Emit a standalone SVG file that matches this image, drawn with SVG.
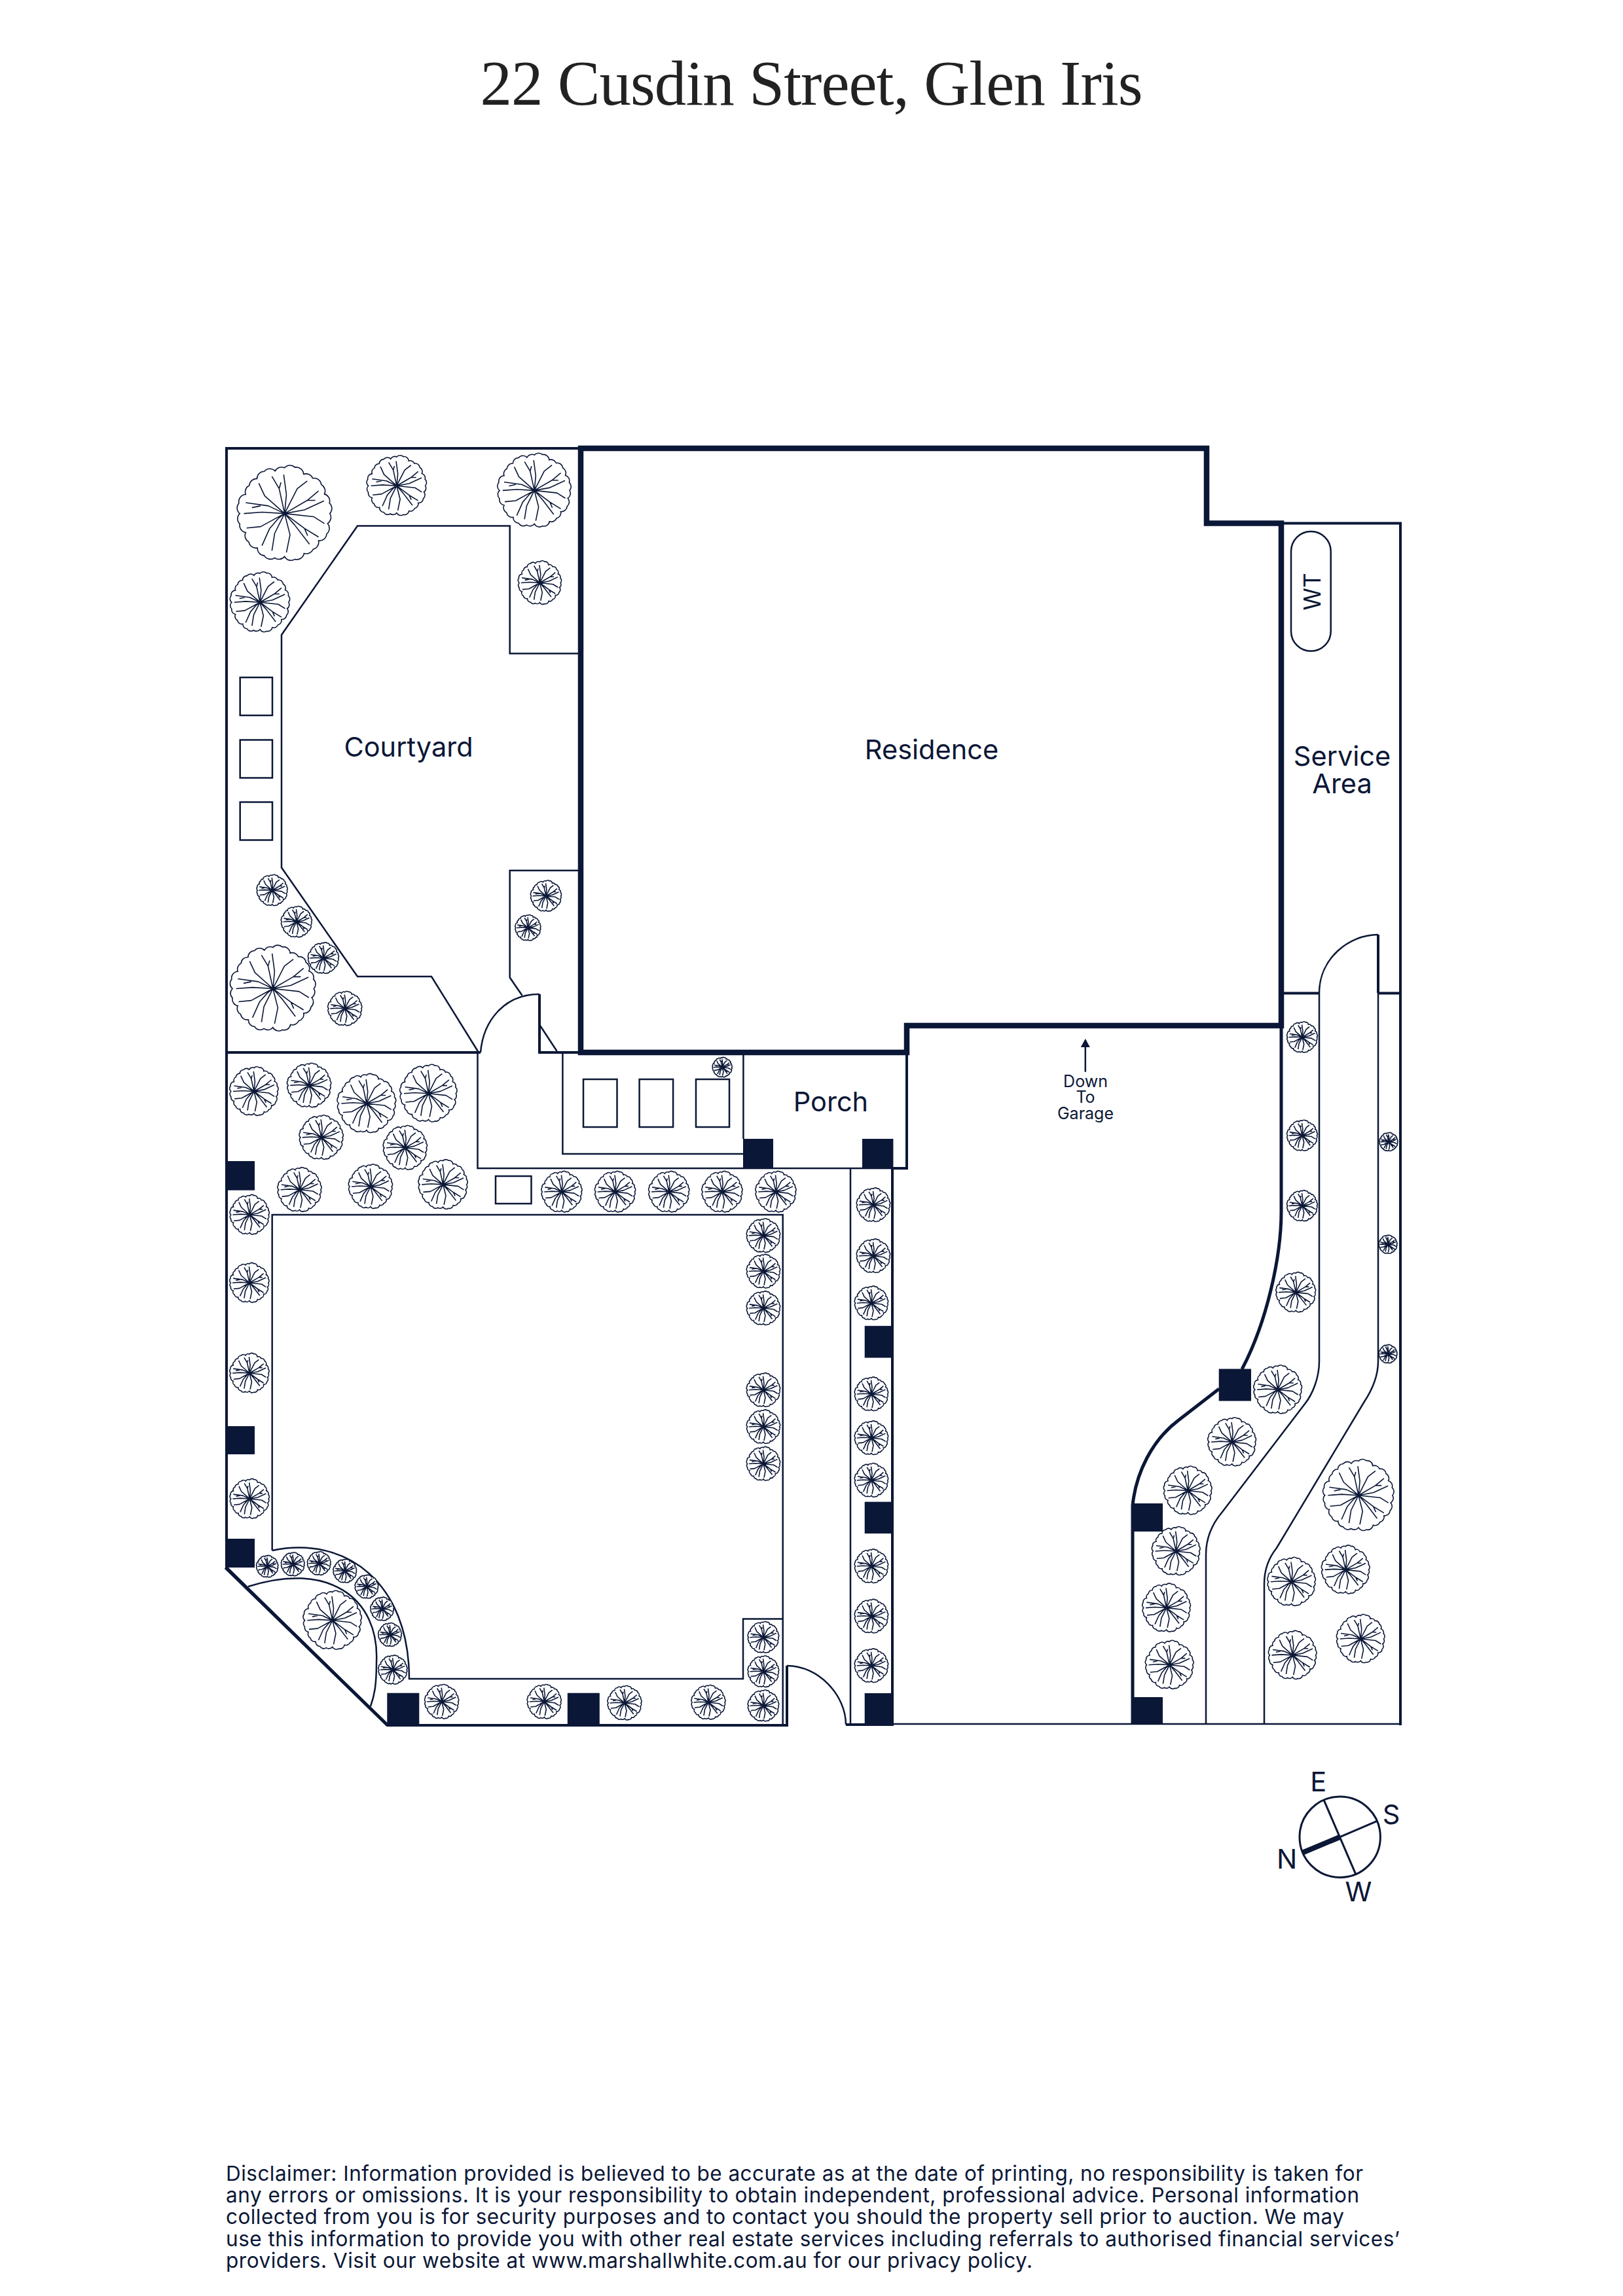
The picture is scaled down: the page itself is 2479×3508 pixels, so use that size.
<svg xmlns="http://www.w3.org/2000/svg" width="2479" height="3508" viewBox="0 0 2479 3508">
<style>
.l{fill:none;stroke:#0b1736;stroke-linejoin:miter}
.a{stroke-width:2.5}.b{stroke-width:4}.c{stroke-width:5}.d{stroke-width:8.5}.e{stroke-width:3}
.p{fill:#0b1736}
.n{fill:none;stroke:#0b1736;stroke-width:1.6;vector-effect:non-scaling-stroke;stroke-linejoin:round}
.w{fill:#fff;stroke:#0b1736;stroke-width:1.6;vector-effect:non-scaling-stroke}
text{font-family:Inter,"Liberation Sans",sans-serif;fill:#0b1736}
.r{font-size:41.500px;text-anchor:middle}
.s{font-size:25px;text-anchor:middle}
.f{font-size:31.500px}
.t{font-family:"Liberation Serif",serif;font-size:97px;fill:#222;text-anchor:middle}
</style>
<defs>
<g id="t" transform="scale(.96)">
<path class="w" d="M100 0A16 16 0 0 1 95 22A16 16 0 0 1 93 45A16 16 0 0 1 75 60A16 16 0 0 1 63 79A16 16 0 0 1 43 88A16 16 0 0 1 23 101A16 16 0 0 1 0 95A16 16 0 0 1 -22 98A16 16 0 0 1 -45 93A16 16 0 0 1 -60 76A16 16 0 0 1 -79 63A16 16 0 0 1 -86 42A16 16 0 0 1 -99 23A16 16 0 0 1 -99 0A16 16 0 0 1 -101 -23A16 16 0 0 1 -86 -42A16 16 0 0 1 -78 -62A16 16 0 0 1 -61 -77A16 16 0 0 1 -45 -93A16 16 0 0 1 -21 -94A16 16 0 0 1 0 -101A16 16 0 0 1 23 -102A16 16 0 0 1 42 -87A16 16 0 0 1 62 -78A16 16 0 0 1 81 -64A16 16 0 0 1 88 -43A16 16 0 0 1 99 -23A16 16 0 0 1 100 0Z"/>
<path class="n" d="M0 0L-12 -55L-28 -82M-12 -55L-8 -69M0 0L4 -42L-2 -86M0 0L28 -55L50 -72M0 0L50 -29L75 -50M50 -29L68 -29M0 0L44 -8L87 -28M0 0L64 7L88 22M0 0L44 33L75 52M44 33L51 49M0 0L22 25L55 68M0 0L12 47L4 86M0 0L-22 44L-28 82M0 0L-14 11L-33 33L-50 71M0 0L-53 29L-84 32M0 0L-50 -3L-90 0M0 0L-36 -17L-86 -24M-53 -17L-72 -13M0 0L-44 -39L-57 -67"/>
</g>
</defs>
<text class="t" x="1239.500" y="160" textLength="1012">22 Cusdin Street, Glen Iris</text>
<g id="plan-lines">
<path class="l b" d="M887 685H346V2395L592 2636H1204"/>
<path class="l c" d="M344.500 2395L592 2636"/>
<path class="l a" d="M887 998.500H778.700V803.500H546L430 970V1325.500L546 1492H659L731 1608"/>
<path class="l a" d="M887 1330H778.700V1493.500L797.600 1521M825 1567L850.600 1606"/>
<path class="l b" d="M346 1608H734M824 1519V1608H887"/>
<path class="l a" d="M734 1608C738 1560 770 1519 824 1519"/>
<path class="l a" d="M729.500 1608V1785H1386M859.400 1608V1763H1135M1135.400 1608V1740"/>
<path class="l b" d="M1385 1608V1787M1364 1785H1386"/>
<path class="l a" d="M415.700 2369V1856H1195.700V2634M415.700 2369C530 2345 625 2420 625 2565H1135V2473.600H1195.700"/>
<path class="l a" d="M379 2424C500 2385 580 2440 575 2540C575 2575 572 2590 566 2607"/>
<path class="l b" d="M1202 2636V2545M1292 2635H1365M1363 1785V2637"/>
<path class="l a" d="M1202 2545C1250 2545 1292 2590 1292 2635M1299 1785V2634M1365 2634H2139"/>
<path class="l d" d="M887 685H1843V799.500H1957V1567H1385V1608H887Z"/>
<path class="l b" d="M1957 799.500H2139V2636M1957 1517.400H2015M2105 1517.400H2139M2105 1428V1517"/>
<path class="l c" d="M1957 1567V1851C1957 1920 1935 2020 1897 2092M1862 2122L1800 2170C1760 2200 1735 2250 1730 2300V2634"/>
<path class="l a" d="M2015 1517C2015 1465 2060 1428 2105 1428"/>
<path class="l a" d="M2015 1517V2080C2015 2105 2005 2130 1993 2145L1867 2310C1850 2330 1842 2350 1842 2375V2634"/>
<path class="l a" d="M2105 1517V2080C2105 2105 2095 2125 2083 2143L1950 2365C1938 2380 1931 2400 1931 2420V2634"/>
<rect class="l a" x="366.700" y="1035" width="49.300" height="58"/>
<rect class="l a" x="366.700" y="1130.500" width="49.300" height="58"/>
<rect class="l a" x="366.700" y="1225.500" width="49.300" height="58"/>
<rect class="l a" x="757" y="1797" width="54.500" height="42"/>
<rect class="l a" x="891" y="1649" width="51.500" height="73"/>
<rect class="l a" x="976.600" y="1649" width="51.500" height="73"/>
<rect class="l a" x="1063" y="1649" width="51" height="73"/>
<rect class="l a" x="1972" y="812" width="60.700" height="182.700" rx="30.300"/>
<path class="l a" d="M1657.800 1637.700V1598"/>
<path class="p" d="M1657.800 1587L1664.800 1600H1650.800Z"/>
</g>
<g id="piers">
<rect class="p" x="345" y="1774" width="44" height="44.600"/>
<rect class="p" x="345" y="2179" width="44" height="43"/>
<rect class="p" x="345" y="2351" width="44" height="44"/>
<rect class="p" x="591.300" y="2586.700" width="49" height="49.300"/>
<rect class="p" x="866.800" y="2586.700" width="49" height="49.300"/>
<rect class="p" x="1135" y="1740" width="46" height="46"/>
<rect class="p" x="1317" y="1740" width="47.400" height="46"/>
<rect class="p" x="1320.700" y="2025.800" width="44.300" height="48.700"/>
<rect class="p" x="1320.700" y="2294.600" width="44.300" height="48.400"/>
<rect class="p" x="1320.700" y="2587" width="44.300" height="50"/>
<rect class="p" x="1861.700" y="2091.500" width="49.300" height="49"/>
<rect class="p" x="1728" y="2297" width="48" height="43"/>
<rect class="p" x="1728" y="2593" width="48" height="42"/>
</g>
<g id="trees">
<use href="#t" transform="translate(434.700 784.600) scale(.72)"/>
<use href="#t" transform="translate(605.900 742.200) scale(.455)"/>
<use href="#t" transform="translate(816.200 749.400) scale(.56)"/>
<use href="#t" transform="translate(397.100 920.200) scale(.455)"/>
<use href="#t" transform="translate(824.500 890.500) scale(.33)"/>
<use href="#t" transform="translate(415.700 1360.300) scale(.235)"/>
<use href="#t" transform="translate(452.900 1408.500) scale(.235)"/>
<use href="#t" transform="translate(494 1463.900) scale(.235)"/>
<use href="#t" transform="translate(416.900 1510.500) scale(.65)"/>
<use href="#t" transform="translate(526.800 1541) scale(.26)"/>
<use href="#t" transform="translate(834 1369) scale(.235)"/>
<use href="#t" transform="translate(806.400 1417.600) scale(.195)"/>
<use href="#t" transform="translate(388 1667.500) scale(.37)"/>
<use href="#t" transform="translate(472.200 1658.400) scale(.335)"/>
<use href="#t" transform="translate(560 1686) scale(.447)"/>
<use href="#t" transform="translate(654.500 1670.700) scale(.435)"/>
<use href="#t" transform="translate(490.800 1737.900) scale(.335)"/>
<use href="#t" transform="translate(618.900 1753.700) scale(.335)"/>
<use href="#t" transform="translate(457.600 1817.800) scale(.335)"/>
<use href="#t" transform="translate(566 1813) scale(.335)"/>
<use href="#t" transform="translate(676.700 1809.900) scale(.375)"/>
<use href="#t" transform="translate(381.300 1856) scale(.3)"/>
<use href="#t" transform="translate(858 1821) scale(.31)"/>
<use href="#t" transform="translate(939.600 1821) scale(.31)"/>
<use href="#t" transform="translate(1021.800 1821) scale(.31)"/>
<use href="#t" transform="translate(1103 1821) scale(.31)"/>
<use href="#t" transform="translate(1185 1821) scale(.31)"/>
<use href="#t" transform="translate(1103.200 1630.700) scale(.15)"/>
<use href="#t" transform="translate(381 1960) scale(.3)"/>
<use href="#t" transform="translate(381 2098) scale(.3)"/>
<use href="#t" transform="translate(381.300 2290) scale(.3)"/>
<use href="#t" transform="translate(408.200 2393.300) scale(.166)"/>
<use href="#t" transform="translate(447.300 2390) scale(.178)"/>
<use href="#t" transform="translate(487.300 2388.700) scale(.178)"/>
<use href="#t" transform="translate(526.800 2400.300) scale(.178)"/>
<use href="#t" transform="translate(560 2424.300) scale(.178)"/>
<use href="#t" transform="translate(583.700 2458.300) scale(.178)"/>
<use href="#t" transform="translate(595.600 2497.700) scale(.178)"/>
<use href="#t" transform="translate(600 2551.300) scale(.22)"/>
<use href="#t" transform="translate(507.800 2475.700) scale(.445)"/>
<use href="#t" transform="translate(674.700 2600) scale(.26)"/>
<use href="#t" transform="translate(831.300 2600) scale(.26)"/>
<use href="#t" transform="translate(954 2602) scale(.26)"/>
<use href="#t" transform="translate(1082 2601) scale(.26)"/>
<use href="#t" transform="translate(1166 1887.900) scale(.256)"/>
<use href="#t" transform="translate(1166 1942.500) scale(.256)"/>
<use href="#t" transform="translate(1166 1998.800) scale(.256)"/>
<use href="#t" transform="translate(1166 2123.800) scale(.256)"/>
<use href="#t" transform="translate(1166 2180) scale(.256)"/>
<use href="#t" transform="translate(1166 2236.500) scale(.256)"/>
<use href="#t" transform="translate(1166 2501.700) scale(.237)"/>
<use href="#t" transform="translate(1166 2554) scale(.237)"/>
<use href="#t" transform="translate(1166 2606.200) scale(.237)"/>
<use href="#t" transform="translate(1334 1841) scale(.256)"/>
<use href="#t" transform="translate(1334 1919) scale(.256)"/>
<use href="#t" transform="translate(1331 1991) scale(.256)"/>
<use href="#t" transform="translate(1331 2130) scale(.256)"/>
<use href="#t" transform="translate(1331 2197) scale(.256)"/>
<use href="#t" transform="translate(1331 2261.700) scale(.256)"/>
<use href="#t" transform="translate(1331 2393) scale(.256)"/>
<use href="#t" transform="translate(1331 2469.500) scale(.256)"/>
<use href="#t" transform="translate(1331 2545) scale(.256)"/>
<use href="#t" transform="translate(1989 1584.800) scale(.233)"/>
<use href="#t" transform="translate(1989 1735) scale(.233)"/>
<use href="#t" transform="translate(1989 1842.400) scale(.233)"/>
<use href="#t" transform="translate(1979.300 1974.600) scale(.303)"/>
<use href="#t" transform="translate(2121 1744.600) scale(.14)"/>
<use href="#t" transform="translate(2120 1901.300) scale(.14)"/>
<use href="#t" transform="translate(2120 2068.700) scale(.14)"/>
<use href="#t" transform="translate(1951.700 2123.200) scale(.367)"/>
<use href="#t" transform="translate(1881.700 2203.200) scale(.367)"/>
<use href="#t" transform="translate(1814.300 2277.500) scale(.367)"/>
<use href="#t" transform="translate(1796.300 2370) scale(.367)"/>
<use href="#t" transform="translate(1781.700 2456.600) scale(.367)"/>
<use href="#t" transform="translate(1786.300 2543.800) scale(.367)"/>
<use href="#t" transform="translate(2075 2284.700) scale(.54)"/>
<use href="#t" transform="translate(2055.300 2398.400) scale(.367)"/>
<use href="#t" transform="translate(1972.700 2416.800) scale(.367)"/>
<use href="#t" transform="translate(1974.300 2528.900) scale(.367)"/>
<use href="#t" transform="translate(2078.300 2504) scale(.367)"/>
</g>
<g id="labels">
<text class="r" x="624" y="1156">Courtyard</text>
<text class="r" x="1423" y="1160">Residence</text>
<text class="r" x="1269" y="1698">Porch</text>
<text class="r" x="2050" y="1170">Service</text>
<text class="r" x="2050" y="1211.600">Area</text>
<text class="r" transform="translate(2017 904) rotate(-90)" style="font-size:35px">WT</text>
<text class="s" x="1658" y="1660.700">Down</text>
<text class="s" x="1658" y="1685">To</text>
<text class="s" x="1658" y="1710">Garage</text>
</g>
<g id="compass">
<circle class="l e" cx="2046.700" cy="2806.700" r="61.700"/>
<path class="l e" d="M2021.700 2749.300L2070.700 2863.300M2046.700 2806.700L2103.300 2782.300"/>
<path class="l" style="stroke-width:8" d="M2046.700 2806.700L1989.300 2830.700"/>
<text class="r" x="2013.700" y="2736.700">E</text>
<text class="r" x="2125" y="2786.700">S</text>
<text class="r" x="1965.700" y="2855">N</text>
<text class="r" x="2075" y="2905">W</text>
</g>
<g id="disclaimer">
<text class="f" x="345" y="3331.700" textLength="1737">Disclaimer: Information provided is believed to be accurate as at the date of printing, no responsibility is taken for</text>
<text class="f" x="345" y="3365" textLength="1731">any errors or omissions. It is your responsibility to obtain independent, professional advice. Personal information</text>
<text class="f" x="345" y="3398.300" textLength="1708">collected from you is for security purposes and to contact you should the property sell prior to auction. We may</text>
<text class="f" x="345" y="3431.700" textLength="1793">use this information to provide you with other real estate services including referrals to authorised financial services’</text>
<text class="f" x="345" y="3465" textLength="1232">providers. Visit our website at www.marshallwhite.com.au for our privacy policy.</text>
</g>
</svg>
